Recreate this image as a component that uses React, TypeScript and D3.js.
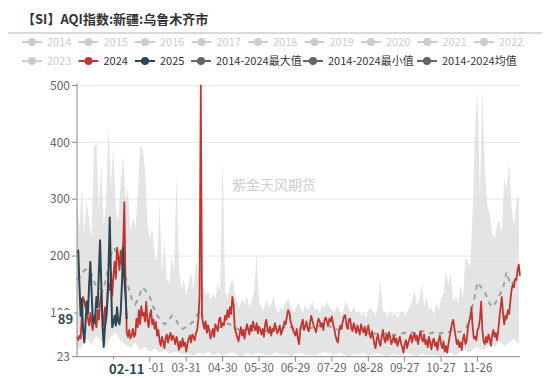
import React from 'react';
import * as d3 from 'd3';

// ---- data ----
const categories: string[] = d3
  .timeDay.range(new Date(2024, 0, 1), new Date(2025, 0, 1))
  .map((d) => d3.timeFormat('%m-%d')(d));

const series2024 = [
  58, 52, 60, 55, 95, 128, 122, 110, 118, 90, 78, 100, 82, 70, 95, 85, 75, 105, 88, 120, 135, 95, 78, 110, 90, 125, 150, 140, 170, 130, 165,
  190, 160, 215, 200, 175, 210, 185, 220, 295, 150, 65, 58, 70, 55, 60, 72, 58, 62, 90, 75, 105, 80, 112, 95, 100, 85, 120, 88, 75,
  95, 105, 80, 88, 72, 84, 60, 70, 52, 42, 58, 50, 38, 55, 62, 48, 58, 65, 52, 60, 55, 45, 58, 48, 35, 50, 40, 55, 42, 48, 32,
  45, 55, 60, 48, 62, 58, 52, 65, 70, 90, 130, 500, 95, 80, 72, 85, 65, 78, 68, 55, 62, 72, 58, 80, 75, 68, 88, 92, 75, 82,
  78, 95, 88, 105, 92, 110, 98, 128, 115, 72, 65, 58, 50, 62, 75, 60, 70, 55, 68, 80, 72, 62, 78, 68, 85, 75, 70, 82, 64, 76, 70,
  62, 72, 58, 80, 88, 70, 65, 76, 60, 72, 68, 82, 74, 64, 70, 78, 62, 68, 75, 85, 80, 95, 105, 100, 85, 78, 70, 65, 60, 72,
  55, 45, 72, 80, 88, 70, 76, 85, 72, 68, 82, 95, 86, 78, 72, 66, 80, 90, 85, 76, 82, 70, 88, 92, 84, 78, 90, 85, 94, 80, 72,
  60, 52, 48, 68, 78, 72, 85, 94, 96, 80, 72, 88, 90, 75, 68, 82, 74, 65, 78, 70, 62, 80, 72, 66, 76, 60, 70, 78, 64, 56, 68,
  58, 45, 38, 55, 62, 48, 42, 58, 70, 55, 48, 62, 52, 66, 58, 45, 52, 60, 48, 55, 42, 50, 58, 46, 40, 30, 45, 52, 38, 48,
  55, 62, 48, 58, 65, 52, 60, 45, 58, 68, 55, 50, 62, 45, 52, 40, 58, 48, 36, 50, 55, 42, 48, 35, 52, 60, 45, 38, 50, 32, 42,
  30, 45, 58, 70, 82, 88, 72, 58, 45, 52, 40, 48, 35, 55, 62, 45, 50, 72, 85, 90, 110, 75, 55, 58, 52, 70, 75, 90, 120, 70,
  50, 45, 58, 48, 62, 55, 42, 60, 70, 58, 65, 52, 68, 90, 110, 128, 100, 80, 95, 90, 105, 98, 120, 140, 150, 145, 160, 158, 175, 185, 165,
];

const series2025 = [
  205, 210, 150, 95, 125, 70, 48, 80, 120, 100, 150, 190, 140, 88, 82, 92, 128, 110, 170, 228,
  150, 80, 40, 75, 90, 120, 180, 268, 160, 75, 82, 95, 78, 110, 85, 80, 100, 150, 215, 160, 130, 89,
];

// 2014-2024 max, every 2nd day
const maxStep = 2;
const maxValues = [
  295, 250, 318, 240, 298, 260, 230, 392, 400, 280,
  360, 250, 300, 428, 320, 392, 280, 260, 330, 378,
  300, 320, 240, 270, 250, 300, 395, 390, 355, 260,
  230, 250, 200, 190, 298, 170, 228, 160, 150, 200,
  170, 345, 180, 140, 160, 130, 150, 170, 140, 193,
  160, 500, 150, 130, 140, 120, 135, 125, 150, 140,
  377, 140, 125, 150, 160, 135, 120, 110, 125, 115,
  130, 110, 120, 140, 205, 120, 110, 105, 125, 110,
  115, 131, 105, 100, 110, 105, 118, 125, 110, 100,
  105, 120, 110, 100, 115, 105, 112, 120, 105, 110,
  100, 115, 108, 120, 110, 105, 100, 112, 105, 95,
  110, 120, 105, 100, 112, 98, 105, 95, 100, 92,
  105, 110, 100, 95, 115, 158, 105, 100, 92, 105,
  95, 100, 90, 98, 105, 95, 100, 110, 120, 140,
  115, 120, 152, 110, 128, 105, 110, 95, 120, 105,
  125, 135, 175, 150, 167, 120, 130, 115, 150, 125,
  198, 190, 181, 280, 420, 492, 300, 497, 350, 290,
  275, 240, 230, 255, 263, 240, 338, 316, 368, 290,
  251, 293, 310,
];

// 2014-2024 min, every 4th day
const minStep = 4;
const minValues = [
  35, 40, 55, 45, 60, 50, 42, 58,
  65, 50, 45, 38, 48, 35, 40,
  32, 38, 30, 35, 28, 32, 30, 27,
  28, 25, 30, 27, 32, 26, 29, 25, 28, 31, 27, 24, 29, 26, 30, 28, 25, 27, 31, 26,
  29, 24, 28, 30, 26, 27, 25, 29, 32, 28, 26, 30, 27, 24, 28, 26, 30, 25, 27, 29,
  26, 24, 28, 25, 27, 30, 26, 24, 28, 25, 27, 26, 24,
  28, 30, 25, 32, 35, 30, 40, 38, 35, 45, 40, 50, 42, 48, 55, 45,
];

// 2014-2024 mean, every 3rd day
const meanStep = 3;
const meanValues = [
  158, 165, 175, 178, 168, 150, 145, 138, 160, 195,
  215, 205, 190, 170, 148, 125, 115, 128, 145, 138,
  128, 110, 95, 88, 80, 85, 95, 90, 78, 72,
  75, 80, 85, 96, 105, 82, 72, 67, 70, 74,
  78, 82, 80, 76, 72, 68, 70, 72, 68, 70,
  72, 70, 68, 72, 70, 74, 72, 75, 78, 74,
  72, 70, 74, 76, 73, 75, 78, 76, 74, 77,
  75, 72, 70, 73, 75, 72, 70, 68, 70, 66,
  64, 66, 63, 65, 62, 64, 60, 62, 60, 63,
  65, 64, 66, 62, 65, 68, 66, 64, 66, 63,
  65, 64, 66, 70, 68, 66, 70, 75, 95, 122,
  154, 145, 137, 120, 110, 118, 131, 143, 172, 150,
  155, 163,
];

const yTicks = [23, 100, 200, 300, 400, 500];
const gridValues = [100, 200, 300, 400, 500];
const xLabelEvery = 30;
const legendRow1 = ['2014', '2015', '2016', '2017', '2018', '2019', '2020', '2021', '2022'];
const legendRow2 = ['2023', '2024', '2025', '2014-2024最大值', '2014-2024最小值', '2014-2024均值'];
const pointerIndex = 41;
const pointerValue = 89;

const RED = '#c23531';
const NAVY = '#2f4554';
const FONT = '"Noto Sans CJK SC", "Noto Sans", sans-serif';

export default function App() {
  const W = 550;
  const H = 378;
  const left = 77;
  const right = 520;
  const top = 85.5;
  const bottom = 356.7;

  const x = d3.scalePoint<string>().domain(categories).range([left, right]);
  const y = d3.scaleLinear().domain([23, 500]).range([bottom, top]);

  const px = (i: number) => x(categories[i]) as number;

  const line = d3
    .line<[number, number]>()
    .x((d) => px(d[0]))
    .y((d) => y(d[1]));

  const pts2024: [number, number][] = series2024.map((v, i) => [i, v]);
  const pts2025: [number, number][] = series2025.map((v, i) => [i, v]);
  const upper: [number, number][] = maxValues.map((v, k) => [
    k * maxStep,
    Math.max(v, series2024[k * maxStep] ?? 0),
  ]);
  const lower: [number, number][] = minValues.map((v, k) => [
    k * minStep,
    Math.min(v, series2024[k * minStep] ?? 999),
  ]);
  const meanPts: [number, number][] = meanValues.map((v, k) => [k * meanStep, v]);

  const bandPath =
    (line(upper) as string) + 'L' + (line(lower.slice().reverse()) as string).slice(1) + 'Z';

  const xTickIdx = d3.range(xLabelEvery, 331, xLabelEvery);

  const row1X = legendRow1.map((_, i) => 22 + i * 56.5);
  const row2X = [22, 78.5, 135, 191, 303, 417];

  const legendColor = (label: string) => {
    if (label === '2024') return RED;
    if (label === '2025') return NAVY;
    if (label.startsWith('2014-2024')) return '#666';
    return '#ccc';
  };
  const legendText = (label: string) => (legendColor(label) === '#ccc' ? '#ccc' : '#333');

  const renderLegend = (label: string, lx: number, ly: number) => (
    <g key={label} transform={`translate(${lx},${ly})`}>
      <line x1={0} x2={20} y1={0} y2={0} stroke={legendColor(label)} strokeWidth={2} />
      <circle cx={10} cy={0} r={4} fill={legendColor(label)} />
      <text x={25} y={0} dy="0.35em" fontSize={11} fill={legendText(label)} fontFamily={FONT}>
        {label}
      </text>
    </g>
  );

  return (
    <svg
      width={W}
      height={H}
      style={{ position: 'absolute', left: 0, top: 0, background: '#fff' }}
    >
      {/* title */}
      <text x={22} y={19} dy="0.35em" fontSize={13} fontWeight="bold" fill="#333" fontFamily={FONT}>
        【SI】AQI指数:新疆:乌鲁木齐市
      </text>
      <line x1={8} x2={542} y1={33} y2={33} stroke="#ccc" strokeWidth={1.5} />

      {/* legend */}
      {legendRow1.map((l, i) => renderLegend(l, row1X[i], 42))}
      {legendRow2.map((l, i) => renderLegend(l, row2X[i], 61))}

      {/* band */}
      <path d={bandPath} fill="#e4e4e4" stroke="none" />

      {/* grid */}
      {gridValues.map((v) => (
        <line key={v} x1={left} x2={right} y1={y(v)} y2={y(v)} stroke="#e0e0e0" strokeWidth={1} opacity={0.8} />
      ))}

      {/* watermark */}
      <text x={274} y={185} textAnchor="middle" dy="0.35em" fontSize={14} fill="#d0d0d0" fontFamily={FONT}>
        紫金天风期货
      </text>

      {/* mean */}
      <path d={line(meanPts) as string} fill="none" stroke="#a0a0a0" strokeWidth={2} strokeDasharray="5,5" />

      {/* 2024 */}
      <path d={line(pts2024) as string} fill="none" stroke={RED} strokeWidth={1.8} strokeLinejoin="round" />
      {/* 2025 */}
      <path d={line(pts2025) as string} fill="none" stroke={NAVY} strokeWidth={2} strokeLinejoin="round" />

      {/* y axis */}
      <line x1={left} x2={left} y1={top - 2} y2={bottom} stroke="#888" strokeWidth={1} />
      {yTicks.map((v) => (
        <g key={v}>
          <line x1={left - 5} x2={left} y1={y(v)} y2={y(v)} stroke="#888" />
          <text x={left - 7} y={y(v)} dy="0.35em" textAnchor="end" fontSize={12} fill="#666" fontFamily={FONT}>
            {v}
          </text>
        </g>
      ))}

      {/* x axis */}
      <line x1={left} x2={right} y1={bottom} y2={bottom} stroke="#888" strokeWidth={1} />
      {xTickIdx.map((i) => (
        <g key={i}>
          <line x1={px(i)} x2={px(i)} y1={bottom} y2={bottom + 5} stroke="#888" />
          <text x={px(i)} y={368} dy="0.35em" textAnchor="middle" fontSize={11.5} fill="#666" fontFamily={FONT}>
            {categories[i]}
          </text>
        </g>
      ))}

      {/* axis pointer labels */}
      <rect x={97} y={359} width={52} height={19} fill="#fff" />
      <text x={px(pointerIndex)} y={369} dy="0.35em" textAnchor="middle" fontSize={13} fontWeight="bold" fill={NAVY} fontFamily={FONT}>
        {categories[pointerIndex]}
      </text>
      <rect x={56} y={y(pointerValue) - 9} width={18} height={18} fill="#fff" />
      <text x={65.5} y={y(pointerValue)} dy="0.35em" textAnchor="middle" fontSize={13} fontWeight="bold" fill={NAVY} fontFamily={FONT}>
        {pointerValue}
      </text>
    </svg>
  );
}
